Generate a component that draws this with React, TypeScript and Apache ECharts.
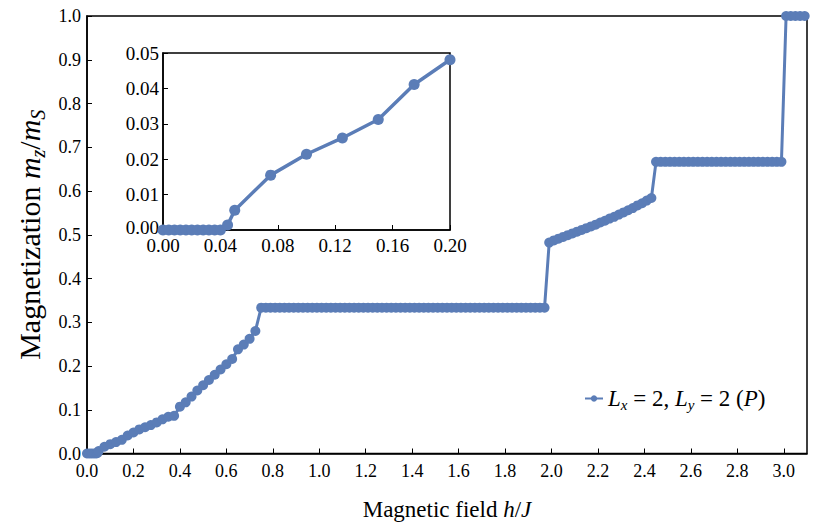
import React, { useEffect, useRef } from "react";
import * as echarts from "echarts";

// ---------- data ----------
// low-field rise
const lowH = [0, 0.01, 0.02, 0.03, 0.04, 0.045, 0.05, 0.075, 0.1, 0.125, 0.15, 0.175, 0.2, 0.225, 0.25, 0.275, 0.3, 0.325, 0.35, 0.375, 0.4, 0.425, 0.45, 0.475, 0.5, 0.525, 0.55, 0.575, 0.6, 0.625, 0.65, 0.675, 0.7, 0.725];
const lowM = [0, 0, 0, 0, 0, 0.0014, 0.0056, 0.0155, 0.0214, 0.026, 0.0312, 0.0411, 0.0481, 0.055, 0.06, 0.065, 0.071, 0.078, 0.084, 0.086, 0.107, 0.117, 0.13, 0.144, 0.156, 0.168, 0.18, 0.192, 0.204, 0.216, 0.238, 0.249, 0.262, 0.28];
// 1/3 plateau
const thirdH = [0.75, 0.77, 0.79, 0.81, 0.83, 0.85, 0.87, 0.89, 0.91, 0.93, 0.95, 0.97, 0.99, 1.01, 1.03, 1.05, 1.07, 1.09, 1.11, 1.13, 1.15, 1.17, 1.19, 1.21, 1.23, 1.25, 1.27, 1.29, 1.31, 1.33, 1.35, 1.37, 1.39, 1.41, 1.43, 1.45, 1.47, 1.49, 1.51, 1.53, 1.55, 1.57, 1.59, 1.61, 1.63, 1.65, 1.67, 1.69, 1.71, 1.73, 1.75, 1.77, 1.79, 1.81, 1.83, 1.85, 1.87, 1.89, 1.91, 1.93, 1.95, 1.97];
const thirdM = 0.3333;
// rise between the plateaus
const midH = [1.99, 2.01, 2.03, 2.05, 2.07, 2.09, 2.11, 2.13, 2.15, 2.17, 2.19, 2.21, 2.23, 2.25, 2.27, 2.29, 2.31, 2.33, 2.35, 2.37, 2.39, 2.41, 2.43];
const midM = [0.482, 0.487, 0.491, 0.495, 0.499, 0.503, 0.507, 0.511, 0.515, 0.519, 0.523, 0.528, 0.532, 0.537, 0.541, 0.546, 0.551, 0.556, 0.561, 0.567, 0.572, 0.578, 0.584];
// 2/3 plateau
const twoThirdH = [2.45, 2.47, 2.49, 2.51, 2.53, 2.55, 2.57, 2.59, 2.61, 2.63, 2.65, 2.67, 2.69, 2.71, 2.73, 2.75, 2.77, 2.79, 2.81, 2.83, 2.85, 2.87, 2.89, 2.91, 2.93, 2.95, 2.97, 2.99];
const twoThirdM = 0.6667;
// saturation
const satH = [3.01, 3.03, 3.05, 3.07, 3.09];
const satM = 1.0;

// inset (zoom of the low-field region)
const insetH = [0, 0.004, 0.008, 0.012, 0.016, 0.02, 0.024, 0.028, 0.032, 0.036, 0.04, 0.045, 0.05, 0.075, 0.1, 0.125, 0.15, 0.175, 0.2];
const insetM = [0, 0, 0, 0, 0, 0, 0, 0, 0, 0, 0, 0.0014, 0.0056, 0.0155, 0.0214, 0.026, 0.0312, 0.0411, 0.0481];

const seriesName = "Lx = 2, Ly = 2 (P)";

const FONT = "Liberation Serif";
const BLUE = "#5b7db7";

function richStyles(size: number, sub: number, lh: number, subLh: number) {
  return {
    n: { fontFamily: FONT, fontSize: size, lineHeight: lh, color: "#000" },
    i: { fontFamily: FONT, fontSize: size, lineHeight: lh, fontStyle: "italic", color: "#000" },
    s: {
      fontFamily: FONT,
      fontSize: sub,
      fontStyle: "italic",
      lineHeight: subLh,
      verticalAlign: "bottom",
      color: "#000",
    },
  };
}

export default function App() {
  const ref = useRef<HTMLDivElement>(null);

  useEffect(() => {
    if (!ref.current) return;
    const chart = echarts.init(ref.current, undefined, { renderer: "svg" });

    const mainData: number[][] = [];
    lowH.forEach((h, k) => mainData.push([h, lowM[k]]));
    thirdH.forEach((h) => mainData.push([h, thirdM]));
    midH.forEach((h, k) => mainData.push([h, midM[k]]));
    twoThirdH.forEach((h) => mainData.push([h, twoThirdM]));
    satH.forEach((h) => mainData.push([h, satM]));

    const insetData = insetH.map((h, k) => [h, insetM[k]]);

    const axisCommon = {
      axisLine: { show: true, lineStyle: { color: "#000", width: 1.5 } },
      axisTick: { show: true, inside: true, length: 5, lineStyle: { color: "#000", width: 1 } },
      splitLine: { show: false },
    };

    chart.setOption({
      animation: false,
      backgroundColor: "#fff",
      textStyle: { fontFamily: FONT },
      grid: [
        { left: 87, right: 11, top: 16, bottom: 65, show: true, borderColor: "#000", borderWidth: 1.5 },
        { left: 163, right: 368, top: 53, bottom: 296, show: true, borderColor: "#000", borderWidth: 1.5, backgroundColor: "#fff", z: 5 },
      ],
      xAxis: [
        {
          gridIndex: 0,
          type: "value",
          min: 0,
          max: 3.1,
          interval: 0.2,
          ...axisCommon,
          axisLabel: {
            formatter: (v: number) => v.toFixed(1),
            showMaxLabel: false,
            color: "#000",
            fontFamily: FONT,
            fontSize: 18,
            margin: 8,
          },
          name: "{n|Magnetic field }{i|h}{n|/}{i|J}",
          nameLocation: "middle",
          nameGap: 42,
          nameTextStyle: { rich: richStyles(23, 15, 28, 16) },
        },
        {
          gridIndex: 1,
          type: "value",
          min: 0,
          max: 0.2,
          interval: 0.04,
          ...axisCommon,
          axisLabel: {
            formatter: (v: number) => v.toFixed(2),
            color: "#000",
            fontFamily: FONT,
            fontSize: 19,
            margin: 6,
          },
          z: 6,
        },
      ],
      yAxis: [
        {
          gridIndex: 0,
          type: "value",
          min: 0,
          max: 1,
          interval: 0.1,
          ...axisCommon,
          axisLabel: {
            formatter: (v: number) => v.toFixed(1),
            color: "#000",
            fontFamily: FONT,
            fontSize: 18,
            margin: 6,
          },
          name: "{n|Magnetization }{i|m}{s|z}{n|/}{i|m}{s|S}",
          nameLocation: "middle",
          nameGap: 18,
          nameRotate: 90,
          nameTextStyle: { rich: richStyles(30, 20, 36, 20) },
        },
        {
          gridIndex: 1,
          type: "value",
          min: 0,
          max: 0.05,
          interval: 0.01,
          ...axisCommon,
          axisLabel: {
            formatter: (v: number) => (v === 0 ? "{z|0.00}" : "{d|" + v.toFixed(2) + "}"),
            color: "#000",
            fontFamily: FONT,
            fontSize: 19,
            margin: 4,
            rich: {
              z: { fontFamily: FONT, fontSize: 19, color: "#000", padding: [0, 0, 6, 0] },
              d: { fontFamily: FONT, fontSize: 19, color: "#000" },
            },
          },
          z: 6,
        },
      ],
      legend: {
        data: [seriesName],
        left: 579,
        top: 382,
        itemWidth: 18,
        itemHeight: 8,
        formatter: () => "{i|L}{s|x}{n| = 2, }{i|L}{s|y}{n| = 2 (}{i|P}{n|)}",
        textStyle: { fontFamily: FONT, rich: richStyles(23, 15, 28, 16) },
      },
      series: [
        {
          type: "line",
          name: seriesName,
          xAxisIndex: 0,
          yAxisIndex: 0,
          data: mainData,
          symbol: "circle",
          symbolSize: 10,
          showAllSymbol: true,
          lineStyle: { color: BLUE, width: 3 },
          itemStyle: { color: BLUE },
        },
        {
          type: "line",
          name: "inset",
          xAxisIndex: 1,
          yAxisIndex: 1,
          data: insetData,
          symbol: "circle",
          symbolSize: 11,
          showAllSymbol: true,
          lineStyle: { color: BLUE, width: 3.5 },
          itemStyle: { color: BLUE },
          z: 7,
        },
      ],
    });

    return () => chart.dispose();
  }, []);

  return (
    <div
      ref={ref}
      style={{ position: "fixed", left: 0, top: 0, width: 818, height: 526, background: "#fff" }}
    />
  );
}
